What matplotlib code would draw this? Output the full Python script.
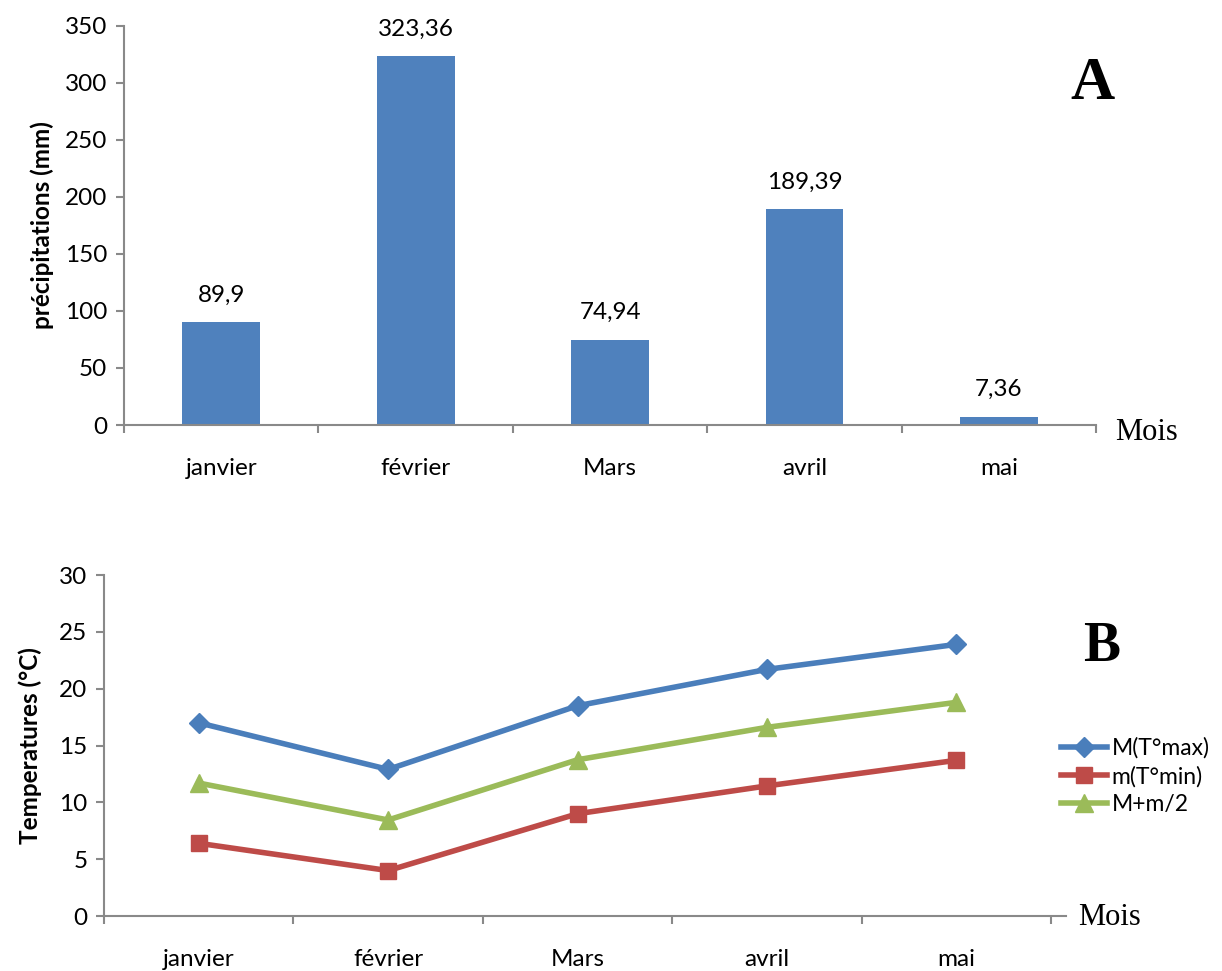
import matplotlib
matplotlib.use("Agg")
import matplotlib.pyplot as plt
import numpy as np

plt.rcParams['font.family'] = ['Lato', 'DejaVu Sans']

mois = ['janvier', 'février', 'Mars', 'avril', 'mai']

# précipitations mensuelles (mm)
precip = [89.9, 323.36, 74.94, 189.39, 7.36]
precip_labels = ['89,9', '323,36', '74,94', '189,39', '7,36']

# températures moyennes (°C)
t_max = [17.0, 12.9, 18.5, 21.7, 23.9]
t_min = [6.4, 4.0, 9.0, 11.45, 13.7]
t_moy = [11.7, 8.45, 13.75, 16.6, 18.8]

grey = '#898989'
fig = plt.figure(figsize=(12.22, 9.71), dpi=100)


def style_axes(ax):
    for s in ['top', 'right']:
        ax.spines[s].set_visible(False)
    for s in ['left', 'bottom']:
        ax.spines[s].set_color(grey)
        ax.spines[s].set_linewidth(1.5)
    ax.tick_params(axis='y', length=6, width=1.5, color=grey, labelsize=17.5, pad=6)
    ax.tick_params(axis='x', which='major', length=0, labelsize=17.5, pad=24)
    ax.tick_params(axis='x', which='minor', length=6, width=1.5, color=grey)


# A : histogramme des précipitations
ax1 = fig.add_axes([0.1015, 0.5623, 0.7955, 0.411])
x = np.arange(len(mois))
ax1.bar(x, precip, width=0.4, color='#4F81BD')
for xi, v, lab in zip(x, precip, precip_labels):
    ax1.annotate(lab, (xi, v), xytext=(0, 12), textcoords='offset points',
                 ha='center', va='bottom', fontsize=17.5)
ax1.set_xlim(-0.5, 4.5)
ax1.set_ylim(0, 350)
ax1.set_yticks(np.arange(0, 351, 50))
ax1.set_xticks(x)
ax1.set_xticklabels(mois)
ax1.set_xticks(np.arange(-0.5, 4.6, 1), minor=True)
style_axes(ax1)
ax1.set_ylabel('précipitations (mm)', fontsize=17.5, fontweight='bold', labelpad=8)
ax1.text(1.02, -0.02, 'Mois', transform=ax1.transAxes, fontsize=22,
         family='Liberation Serif', va='center', ha='left')
ax1.text(0.996, 0.855, 'A', transform=ax1.transAxes, fontsize=44,
         family='Liberation Serif', fontweight='bold', ha='center', va='center')

# B : courbes des températures
ax2 = fig.add_axes([0.0851, 0.0566, 0.7875, 0.3512])
ax2.plot(x, t_max, color='#4A7EBB', lw=4, marker='D', ms=10, label='M(T°max)')
ax2.plot(x, t_min, color='#BE4B48', lw=4, marker='s', ms=12, label='m(T°min)')
ax2.plot(x, t_moy, color='#9BBB59', lw=4, marker='^', ms=13, label='M+m/2')
ax2.set_xlim(-0.5, 4.58)
ax2.set_ylim(0, 30)
ax2.set_yticks(np.arange(0, 31, 5))
ax2.set_xticks(x)
ax2.set_xticklabels(mois)
ax2.set_xticks(np.arange(-0.5, 4.6, 1), minor=True)
style_axes(ax2)
ax2.set_ylabel('Temperatures (°C)', fontsize=17.5, fontweight='bold', labelpad=12)
ax2.text(1.012, -0.005, 'Mois', transform=ax2.transAxes, fontsize=22,
         family='Liberation Serif', va='center', ha='left')
ax2.text(1.037, 0.79, 'B', transform=ax2.transAxes, fontsize=40,
         family='Liberation Serif', fontweight='bold', ha='center', va='center')
ax2.legend(loc='center left', bbox_to_anchor=(0.985, 0.41), frameon=False,
           fontsize=16.5, handlelength=2.0, handletextpad=0.2, labelspacing=0.3,
           borderaxespad=0)

fig.savefig('out.png', dpi=100)
